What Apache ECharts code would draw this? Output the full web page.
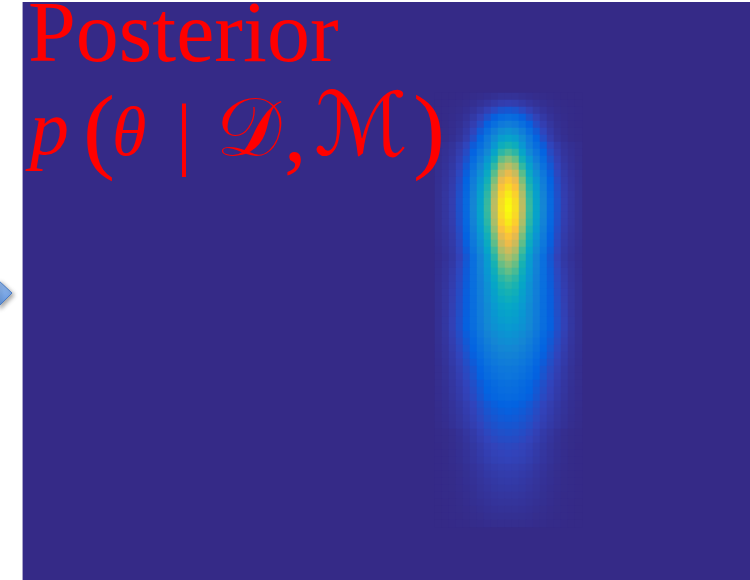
<!DOCTYPE html>
<html>
<head>
<meta charset="utf-8">
<style>
  html, body { margin: 0; padding: 0; background: #ffffff; }
  #chart { width: 750px; height: 580px; }
</style>
<script src="https://cdn.jsdelivr.net/npm/echarts@6/dist/echarts.min.js"></script>
</head>
<body>
<div id="chart"></div>
<script>
// Grid of the density image: 104 columns x 82 rows of cells.
const columnCount = 104;
const rowCount = 82;
// Only the cells around the mode carry visible density; they start here.
const firstColumn = 59;
const firstRow = 13;

// Posterior density (percent of the peak), one array per image row, 21 columns each.
const crownRows = [
  [0,0,0,0.1,0.3,0.5,0.7,1.1,1.5,1.9,2,1.9,1.5,1.1,0.7,0.5,0.3,0.1,0,0,0],
  [0,0.1,0.2,0.4,0.7,1.2,1.9,2.8,3.8,4.7,5,4.7,3.8,2.8,1.9,1.2,0.7,0.4,0.2,0.1,0],
  [0.1,0.2,0.4,0.7,1.3,2.3,3.7,5.5,7.5,9.3,10,9.3,7.5,5.5,3.7,2.3,1.3,0.7,0.4,0.2,0.1],
  [0.1,0.2,0.6,1.1,2.1,3.7,5.9,8.8,12,14.9,16,14.9,12,8.8,5.9,3.7,2.1,1.1,0.6,0.2,0.1],
  [0.1,0.3,0.8,1.5,2.9,5.1,8.1,12.1,16.5,20.5,22,20.5,16.5,12.1,8.1,5.1,2.9,1.5,0.8,0.3,0.1],
  [0.2,0.4,1,2,3.8,6.7,10.7,16,21.8,27,29,27,21.8,16,10.7,6.7,3.8,2,1,0.4,0.2],
  [0.2,0.5,1.3,2.5,4.7,8.3,13.3,19.8,27,33.5,36,33.5,27,19.8,13.3,8.3,4.7,2.5,1.3,0.5,0.2]
];
const coreRows = [
  [0.7,1.3,2.2,4,6.6,11,15.8,22,30.8,40.5,44,40.5,30.8,22,15.8,11,6.6,4,2.2,1.3,0.7],
  [0.8,1.6,2.6,4.7,7.8,13,18.7,26,36.4,47.8,52,47.8,36.4,26,18.7,13,7.8,4.7,2.6,1.6,0.8],
  [0.9,1.8,3.1,5.5,9.2,15.3,22,30.5,42.7,56.1,61,56.1,42.7,30.5,22,15.3,9.2,5.5,3.1,1.8,0.9],
  [1.1,2.1,3.5,6.3,10.5,17.5,25.2,35,49,64.4,70,64.4,49,35,25.2,17.5,10.5,6.3,3.5,2.1,1.1],
  [1.2,2.3,3.9,7,11.7,19.5,28.1,39,54.6,71.8,78,71.8,54.6,39,28.1,19.5,11.7,7,3.9,2.3,1.2],
  [1.3,2.6,4.3,7.7,12.8,21.3,30.6,42.5,59.5,78.2,85,78.2,59.5,42.5,30.6,21.3,12.8,7.7,4.3,2.6,1.3],
  [1.4,2.7,4.6,8.2,13.7,22.8,32.8,45.5,63.7,83.7,91,83.7,63.7,45.5,32.8,22.8,13.7,8.2,4.6,2.7,1.4],
  [1.4,2.9,4.8,8.6,14.4,24,34.6,48,67.2,88.3,96,88.3,67.2,48,34.6,24,14.4,8.6,4.8,2.9,1.4],
  [1.5,3,5,8.9,14.9,24.8,35.6,49.5,69.3,91.1,99,91.1,69.3,49.5,35.6,24.8,14.9,8.9,5,3,1.5],
  [1.5,3,5,9,15,25,36,50,70,92,100,92,70,50,36,25,15,9,5,3,1.5],
  [1.5,2.9,4.9,8.8,14.7,24.5,35.3,49,68.6,90.2,98,90.2,68.6,49,35.3,24.5,14.7,8.8,4.9,2.9,1.5],
  [1.4,2.9,4.8,8.6,14.3,23.8,34.2,47.5,66.5,87.4,95,87.4,66.5,47.5,34.2,23.8,14.3,8.6,4.8,2.9,1.4],
  [1.4,2.7,4.5,8.1,13.5,22.5,32.4,45,63,82.8,90,82.8,63,45,32.4,22.5,13.5,8.1,4.5,2.7,1.4],
  [1.3,2.5,4.2,7.6,12.6,21,30.2,42,58.8,77.3,84,77.3,58.8,42,30.2,21,12.6,7.6,4.2,2.5,1.3],
  [1.2,2.4,4,7.1,11.9,19.8,28.4,39.5,55.3,72.7,79,72.7,55.3,39.5,28.4,19.8,11.9,7.1,4,2.4,1.2],
  [1.1,2.2,3.7,6.6,11,18.3,26.3,36.5,51.1,67.2,73,67.2,51.1,36.5,26.3,18.3,11,6.6,3.7,2.2,1.1],
  [1,2,3.4,6,10.1,16.8,24.1,33.5,46.9,61.6,67,61.6,46.9,33.5,24.1,16.8,10.1,6,3.4,2,1]
];
const shoulderRows = [
  [1.1,2.3,3.8,6.6,10.6,16.8,23.8,32.3,43.9,56.4,61,56.4,43.9,32.3,23.8,16.8,10.6,6.6,3.8,2.3,1.1],
  [1.2,2.5,4.3,7.1,11,16.8,23.4,31.4,41.4,52.1,56,52.1,41.4,31.4,23.4,16.8,11,7.1,4.3,2.5,1.2],
  [1.3,2.6,4.5,7.3,11.2,16.6,22.8,30.1,38.8,47.7,51,47.7,38.8,30.1,22.8,16.6,11.2,7.3,4.5,2.6,1.3],
  [1.4,2.7,4.8,7.6,11.4,16.5,22.4,29.1,36.7,44.2,47,44.2,36.7,29.1,22.4,16.5,11.4,7.6,4.8,2.7,1.4],
  [1.4,2.9,5.1,7.9,11.7,16.5,22.2,28.6,35.2,41.6,44,41.6,35.2,28.6,22.2,16.5,11.7,7.9,5.1,2.9,1.4],
  [1.5,3,5.2,8.1,11.8,16.4,21.9,27.9,33.6,39,41,39,33.6,27.9,21.9,16.4,11.8,8.1,5.2,3,1.5],
  [1.5,3,5.4,8.2,11.8,16.2,21.4,27,31.9,36.3,38,36.3,31.9,27,21.4,16.2,11.8,8.2,5.4,3,1.5],
  [1.5,3.1,5.5,8.4,12,16.2,21.3,26.6,31,34.6,36,34.6,31,26.6,21.3,16.2,12,8.4,5.5,3.1,1.5],
  [1.6,3.2,5.7,8.6,12.1,16.2,21.1,26.2,29.9,32.8,34,32.8,29.9,26.2,21.1,16.2,12.1,8.6,5.7,3.2,1.6]
];
const tailRows = [
  [1.6,3.2,5.8,8.6,12.2,16,20.8,25.6,28.8,31,32,31,28.8,25.6,20.8,16,12.2,8.6,5.8,3.2,1.6],
  [1.5,3,5.4,8.1,11.4,15,19.5,24,27,29.1,30,29.1,27,24,19.5,15,11.4,8.1,5.4,3,1.5],
  [1.4,2.8,5,7.6,10.6,14,18.2,22.4,25.2,27.2,28,27.2,25.2,22.4,18.2,14,10.6,7.6,5,2.8,1.4],
  [1.3,2.6,4.7,7,9.9,13,16.9,20.8,23.4,25.2,26,25.2,23.4,20.8,16.9,13,9.9,7,4.7,2.6,1.3],
  [1.2,2.4,4.3,6.5,9.1,12,15.6,19.2,21.6,23.3,24,23.3,21.6,19.2,15.6,12,9.1,6.5,4.3,2.4,1.2],
  [1.1,2.2,4,5.9,8.4,11,14.3,17.6,19.8,21.3,22,21.3,19.8,17.6,14.3,11,8.4,5.9,4,2.2,1.1],
  [1,2,3.6,5.4,7.6,10,13,16,18,19.4,20,19.4,18,16,13,10,7.6,5.4,3.6,2,1],
  [1,1.9,3.4,5.1,7.2,9.5,12.4,15.2,17.1,18.4,19,18.4,17.1,15.2,12.4,9.5,7.2,5.1,3.4,1.9,1],
  [0.9,1.7,3.1,4.6,6.5,8.5,11,13.6,15.3,16.5,17,16.5,15.3,13.6,11,8.5,6.5,4.6,3.1,1.7,0.9],
  [0.8,1.6,2.9,4.3,6.1,8,10.4,12.8,14.4,15.5,16,15.5,14.4,12.8,10.4,8,6.1,4.3,2.9,1.6,0.8],
  [0.8,1.5,2.7,4.1,5.7,7.5,9.8,12,13.5,14.6,15,14.6,13.5,12,9.8,7.5,5.7,4.1,2.7,1.5,0.8],
  [0.7,1.3,2.3,3.5,4.9,6.5,8.5,10.4,11.7,12.6,13,12.6,11.7,10.4,8.5,6.5,4.9,3.5,2.3,1.3,0.7],
  [0.6,1.2,2.2,3.2,4.6,6,7.8,9.6,10.8,11.6,12,11.6,10.8,9.6,7.8,6,4.6,3.2,2.2,1.2,0.6],
  [0.6,1.1,2,3,4.2,5.5,7.2,8.8,9.9,10.7,11,10.7,9.9,8.8,7.2,5.5,4.2,3,2,1.1,0.6],
  [0.5,1,1.8,2.7,3.8,5,6.5,8,9,9.7,10,9.7,9,8,6.5,5,3.8,2.7,1.8,1,0.5],
  [0.2,0.5,1,1.8,2.9,4.1,5.6,7,8.1,8.7,9,8.7,8.1,7,5.6,4.1,2.9,1.8,1,0.5,0.2],
  [0.2,0.4,0.9,1.6,2.6,3.7,5,6.2,7.2,7.8,8,7.8,7.2,6.2,5,3.7,2.6,1.6,0.9,0.4,0.2],
  [0.1,0.4,0.8,1.4,2.2,3.2,4.3,5.5,6.3,6.8,7,6.8,6.3,5.5,4.3,3.2,2.2,1.4,0.8,0.4,0.1],
  [0.1,0.3,0.7,1.3,2.1,3,4,5.1,5.9,6.3,6.5,6.3,5.9,5.1,4,3,2.1,1.3,0.7,0.3,0.1],
  [0.1,0.3,0.7,1.2,1.9,2.8,3.7,4.7,5.4,5.8,6,5.8,5.4,4.7,3.7,2.8,1.9,1.2,0.7,0.3,0.1],
  [0.1,0.3,0.6,1,1.6,2.3,3.1,3.9,4.5,4.9,5,4.9,4.5,3.9,3.1,2.3,1.6,1,0.6,0.3,0.1],
  [0.1,0.2,0.5,0.9,1.4,2.1,2.8,3.5,4.1,4.4,4.5,4.4,4.1,3.5,2.8,2.1,1.4,0.9,0.5,0.2,0.1],
  [0.1,0.2,0.4,0.8,1.3,1.8,2.5,3.1,3.6,3.9,4,3.9,3.6,3.1,2.5,1.8,1.3,0.8,0.4,0.2,0.1],
  [0.1,0.2,0.4,0.7,1.1,1.6,2.2,2.7,3.2,3.4,3.5,3.4,3.2,2.7,2.2,1.6,1.1,0.7,0.4,0.2,0.1],
  [0.1,0.2,0.3,0.6,1,1.4,1.9,2.3,2.7,2.9,3,2.9,2.7,2.3,1.9,1.4,1,0.6,0.3,0.2,0.1],
  [0,0.1,0.3,0.5,0.8,1.2,1.6,2,2.3,2.4,2.5,2.4,2.3,2,1.6,1.2,0.8,0.5,0.3,0.1,0],
  [0,0.1,0.2,0.4,0.6,0.9,1.2,1.6,1.8,1.9,2,1.9,1.8,1.6,1.2,0.9,0.6,0.4,0.2,0.1,0],
  [0,0.1,0.2,0.3,0.5,0.7,0.9,1.2,1.4,1.5,1.5,1.5,1.4,1.2,0.9,0.7,0.5,0.3,0.2,0.1,0],
  [0,0,0.1,0.2,0.3,0.5,0.6,0.8,0.9,1,1,1,0.9,0.8,0.6,0.5,0.3,0.2,0.1,0,0]
];

// Parula colour ramp, low to high.
const parula = [
  '#352a87', '#3243ba', '#0363e1', '#0d75dc', '#1485d4', '#0998d1', '#06a7c6', '#15b1b4',
  '#38b99e', '#65be86', '#92bf73', '#b7bd64', '#d9ba56', '#f8bb44', '#fcce2e', '#f5e41d', '#f9fb0e'
];

const titleText = 'Posterior';
const formulaText = ['p', '(', 'θ', '|', '𝒟', ',', 'ℳ', ')'];

const densityRows = crownRows.concat(coreRows, shoulderRows, tailRows);
const cells = [];
densityRows.forEach((row, i) => {
  row.forEach((value, j) => cells.push([firstColumn + j, firstRow + i, value]));
});
const columns = Array.from({ length: columnCount }, (_, i) => i);
const rows = Array.from({ length: rowCount }, (_, i) => i);

const red = '#ff0000';
const serif = '"Liberation Serif", "DejaVu Serif", serif';
const script = '"DejaVu Serif", "DejaVu Sans", serif';

// Each glyph of the formula line: [x, y, font]
const formulaLayout = [
  [30, 133, 'italic 78px ' + serif],
  [83, 136, '96px ' + serif],
  [112, 137, 'italic 70px ' + serif],
  [176, 139, '80px ' + serif],
  [216, 134, '82px ' + script],
  [284, 137, '90px ' + serif],
  [314, 132, '88px ' + script],
  [413, 136, '96px ' + serif]
];

const chart = echarts.init(document.getElementById('chart'), null, { renderer: 'canvas' });

const graphics = [
  {
    type: 'rect', z: -1, silent: true,
    shape: { x: 22, y: 2, width: 728, height: 578 },
    style: { fill: '#352a87' }
  },
  {
    type: 'rect', z: 1, silent: true,
    shape: { x: 22, y: 2, width: 1, height: 578 },
    style: { fill: '#aaa4cc' }
  },
  {
    type: 'polygon', z: 1, silent: true,
    shape: { points: [[-2, 280], [12, 293], [-2, 307]] },
    style: {
      fill: new echarts.graphic.LinearGradient(0, 0, 0, 1, [
        { offset: 0, color: '#9cc0f2' }, { offset: 1, color: '#5f93dd' }
      ]),
      stroke: '#4a7bc4', lineWidth: 1,
      shadowBlur: 4, shadowColor: 'rgba(0,0,0,0.35)', shadowOffsetX: 2, shadowOffsetY: 2
    }
  },
  {
    type: 'text', z: 100, silent: true,
    x: 28, y: 38,
    style: { text: titleText, fill: red, font: '86px ' + serif, textAlign: 'left', textVerticalAlign: 'middle' }
  }
];
formulaText.forEach((glyph, i) => {
  const [x, y, font] = formulaLayout[i];
  graphics.push({
    type: 'text', z: 100, silent: true, x: x, y: y,
    style: { text: glyph, fill: red, font: font, textAlign: 'left', textVerticalAlign: 'middle' }
  });
});

chart.setOption({
  animation: false,
  backgroundColor: '#ffffff',
  grid: { left: 22, top: 2, width: 728, height: 574, containLabel: false },
  xAxis: {
    type: 'category', data: columns, show: false,
    axisLine: { show: false }, axisTick: { show: false }, axisLabel: { show: false }, splitLine: { show: false }
  },
  yAxis: {
    type: 'category', data: rows, show: false, inverse: true,
    axisLine: { show: false }, axisTick: { show: false }, axisLabel: { show: false }, splitLine: { show: false }
  },
  visualMap: {
    show: false, type: 'continuous', min: 0, max: 100, seriesIndex: 0,
    inRange: { color: parula }
  },
  series: [{
    type: 'heatmap',
    data: cells,
    z: 2,
    itemStyle: { borderWidth: 0 },
    emphasis: { disabled: true },
    progressive: 0
  }],
  graphic: graphics
});
</script>
</body>
</html>
